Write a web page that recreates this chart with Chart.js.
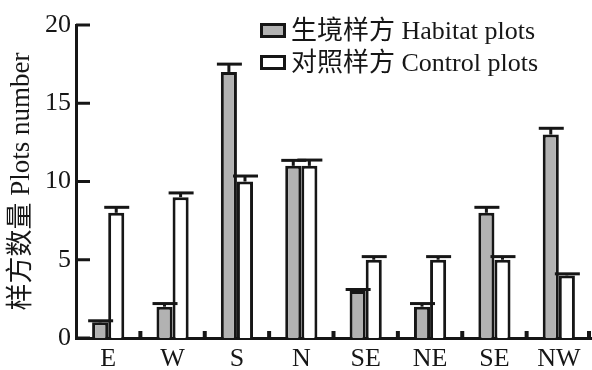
<!DOCTYPE html>
<html><head><meta charset="utf-8">
<script src="https://cdn.jsdelivr.net/npm/chart.js@4/dist/chart.umd.min.js"></script>
<style>html,body{margin:0;padding:0;background:#fff}#wrap{width:592px;height:370px;position:relative}</style>
</head><body><div id="wrap"><canvas id="c"></canvas></div>
<script>
const categories = ['E','W','S','N','SE','NE','SE','NW'];
const seriesNames = ['生境样方 Habitat plots','对照样方 Control plots'];
const habitat = [1,2,17,11,3,2,8,13];
const control = [8,9,10,11,5,5,5,4];
const habitatErr = [0.1,0.2,0.5,0.35,0.1,0.2,0.35,0.4];
const controlErr = [0.35,0.27,0.35,0.37,0.2,0.2,0.2,0.1];
const yTicks = [0,5,10,15,20];
const yTitle = '样方数量 Plots number';

const INK = '#161616';
const FONT = '"Liberation Serif", "Noto Sans CJK SC", serif';
const fills = ['#b2b2b2','#ffffff'];
const errs = [habitatErr, controlErr];

const decor = {
  id:'decor',
  afterDatasetsDraw(chart){
    const ctx = chart.ctx, y = chart.scales.y, x = chart.scales.x, ca = chart.chartArea;
    ctx.save();
    ctx.strokeStyle = INK; ctx.fillStyle = INK;
    chart.data.datasets.forEach((ds,i)=>{
      const meta = chart.getDatasetMeta(i);
      meta.data.forEach((bar,j)=>{
        const yv = y.getPixelForValue(ds.data[j]);
        const ye = y.getPixelForValue(ds.data[j]+errs[i][j]);
        ctx.lineWidth = 3;
        ctx.beginPath(); ctx.moveTo(bar.x, yv); ctx.lineTo(bar.x, ye); ctx.stroke();
        ctx.beginPath(); ctx.moveTo(bar.x-12, ye); ctx.lineTo(bar.x+13, ye); ctx.stroke();
      });
    });
    ctx.lineWidth = 3;
    yTicks.forEach(v=>{
      const py = y.getPixelForValue(v);
      ctx.beginPath(); ctx.moveTo(ca.left, py); ctx.lineTo(ca.left+14, py); ctx.stroke();
    });
    for(let i=0;i<categories.length;i++){
      const b = i < categories.length-1 ? (x.getPixelForValue(i)+x.getPixelForValue(i+1))/2 : ca.right-2;
      ctx.fillRect(b-2, ca.bottom-7, 4, 7);
    }
    const lx = 260, rows = [31, 63];
    ctx.font = '26px ' + FONT;
    ctx.textBaseline = 'middle';
    rows.forEach((ry,i)=>{
      ctx.fillStyle = fills[i];
      ctx.fillRect(lx, ry-8, 26, 15);
      ctx.lineWidth = 3; ctx.strokeStyle = INK;
      ctx.strokeRect(lx+1.5, ry-6.5, 23, 12);
      ctx.fillStyle = INK;
      ctx.fillText(seriesNames[i], lx+31, ry+1);
    });
    ctx.restore();
  }
};

new Chart(document.getElementById('c'), {
  type:'bar',
  data:{
    labels: categories,
    datasets:[
      {label: seriesNames[0], data: habitat, backgroundColor: fills[0], borderColor: INK, borderWidth: 3, categoryPercentage:0.5, barPercentage:1.0},
      {label: seriesNames[1], data: control, backgroundColor: fills[1], borderColor: INK, borderWidth: 3, categoryPercentage:0.5, barPercentage:1.0}
    ]
  },
  options:{
    responsive:true, maintainAspectRatio:false, animation:false,
    layout:{padding:{top:25,right:1,left:0,bottom:0}},
    plugins:{legend:{display:false}, tooltip:{enabled:false}},
    scales:{
      x:{
        grid:{display:false, drawTicks:false},
        border:{display:true, color:INK, width:3},
        ticks:{color:INK, font:{family:FONT, size:26}, padding:6, maxRotation:0, autoSkip:false},
        afterFit(s){ s.height = 32; }
      },
      y:{
        min:0, max:20,
        grid:{display:false, drawTicks:false},
        border:{display:true, color:INK, width:3},
        ticks:{color:INK, font:{family:FONT, size:26}, padding:5, stepSize:5},
        afterBuildTicks(s){ s.ticks = yTicks.map(v=>({value:v})); },
        title:{display:true, text:yTitle, color:INK, font:{family:FONT, size:27}, padding:{top:6,bottom:0}},
        afterFit(s){ s.width = 76; }
      }
    }
  },
  plugins:[decor]
});
</script></body></html>
